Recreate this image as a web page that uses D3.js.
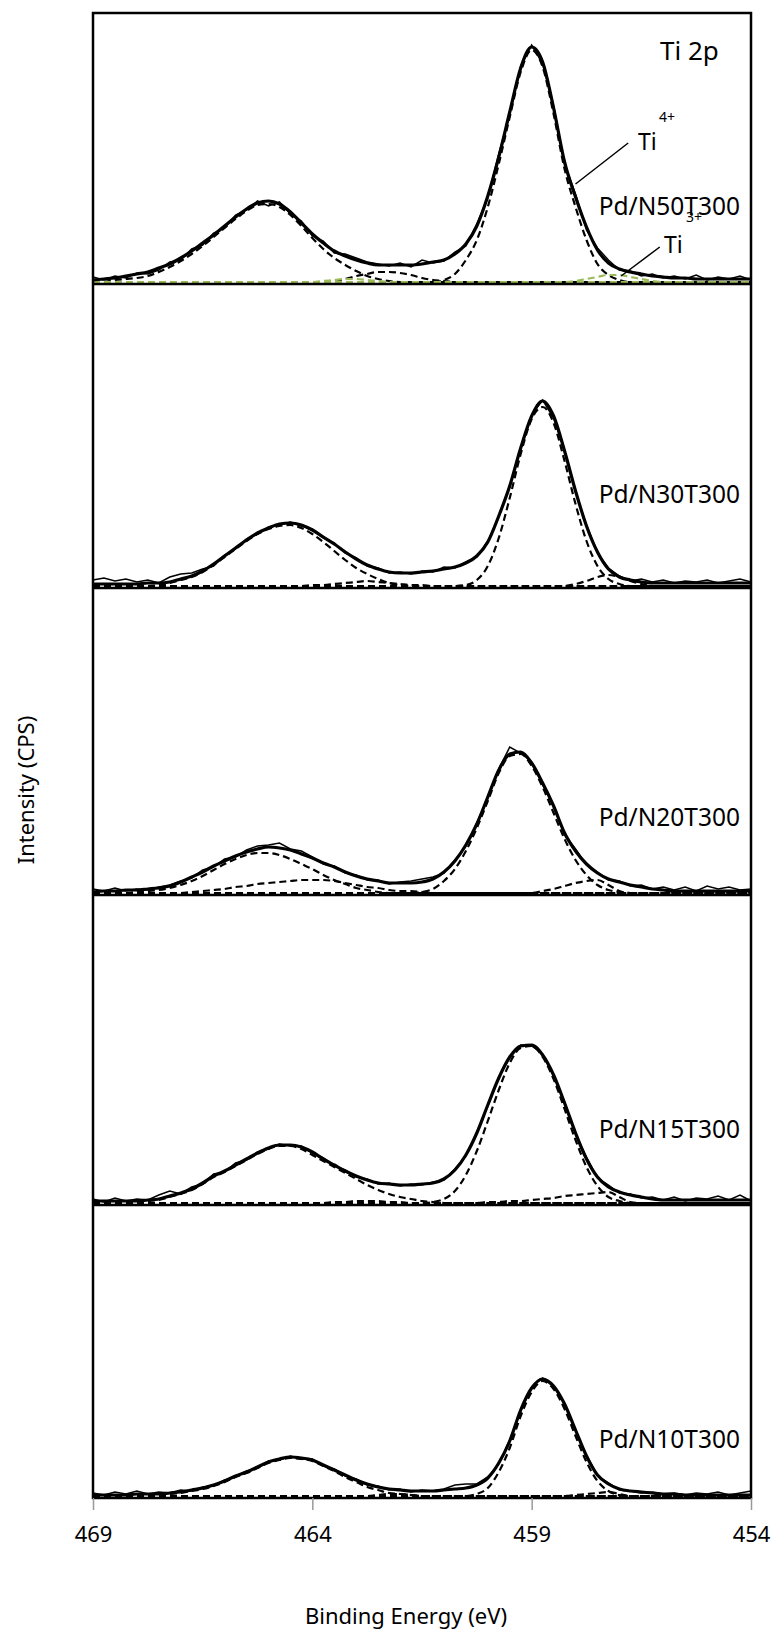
<!DOCTYPE html>
<html>
<head>
<meta charset="utf-8">
<script src="https://cdn.jsdelivr.net/npm/d3@7"></script>
<style>
  body { margin: 0; background: #fff; }
  text { font-family: "Noto Sans", sans-serif; fill: #000; }
</style>
</head>
<body>
<div id="plot"></div>
<script>
// energy grid: 469 -> 454 eV, 0.25 eV steps (61 points)
let eStart = 469, eEnd = 454, eStep = 0.25;

let sampleNames = ['Pd/N50T300', 'Pd/N30T300', 'Pd/N20T300', 'Pd/N15T300', 'Pd/N10T300'];
let xTicks = [469, 464, 459, 454];

// raw spectra (counts, arbitrary units)
let rawN50 = [5,2,6,4,9,8,12,20,22,33,37,49,54,67,72,81,76,80,68,61,46,41,29,28,24,20,18,16,19,15,22,19,21,30,36,58,84,128,168,216,237,218,176,118,88,52,34,22,12,11,6,8,4,6,3,7,2,5,3,6,2];
let rawN30 = [6,8,5,7,4,6,3,9,12,13,17,20,31,37,47,52,59,61,64,60,57,48,43,33,28,20,18,13,14,12,15,14,19,18,24,29,45,69,101,137,171,186,168,136,94,61,33,18,10,5,7,4,6,3,5,4,6,3,5,7,4];
let rawN20 = [4,2,5,2,4,3,6,8,12,15,23,26,34,36,43,47,48,50,44,42,36,29,27,20,18,13,13,9,11,12,14,16,20,33,47,70,95,124,146,140,131,108,88,58,44,28,21,13,12,7,8,4,6,3,6,2,7,4,6,3,4];
let rawN15 = [4,1,5,2,4,3,8,12,9,16,19,29,31,40,43,51,54,59,57,57,50,45,37,33,26,24,19,20,17,19,18,21,23,34,47,71,97,126,145,158,157,149,127,101,69,46,25,18,10,9,5,6,3,6,2,5,4,7,3,8,2];
let rawN10 = [3,1,4,2,5,2,4,3,6,5,9,10,16,19,25,28,35,36,40,37,37,30,27,20,17,11,10,6,7,4,6,5,7,11,12,12,19,32,56,85,109,118,109,93,65,41,20,13,6,5,3,4,2,3,1,3,2,4,1,3,5];

// fitted envelopes
let fitN50 = [2,3,4,6,8,10,14,18,24,31,39,47,56,65,73,79,81,78,70,59,48,39,31,26,22,19,17,17,17,17,18,20,22,28,38,56,86,125,170,214,235,220,174,120,85,55,32,19,13,10,8,6,5,4,4,3,3,3,3,3,3];
let fitN30 = [2,2,2,2,2,3,3,4,7,10,15,22,30,38,46,53,58,62,63,61,56,49,42,34,27,21,17,14,13,13,14,15,17,19,23,30,44,70,100,138,170,185,170,135,95,60,34,17,9,6,4,3,3,3,3,3,3,3,3,3,3];
let fitN20 = [1,2,2,3,3,4,5,7,11,16,21,27,32,37,41,44,46,45,43,39,35,30,26,21,17,14,12,10,10,10,11,14,21,32,48,69,96,123,139,141,130,110,87,60,42,29,20,14,11,8,6,4,3,2,2,2,2,2,2,2,2];
let fitN15 = [2,2,2,2,2,3,4,7,10,14,20,27,32,38,44,50,55,58,58,56,51,44,38,32,27,23,20,19,18,18,19,20,24,33,48,70,98,125,146,157,158,148,128,100,70,44,26,16,11,8,6,4,3,3,3,3,3,3,3,3,3];
let fitN10 = [1,1,1,1,2,2,2,3,4,6,8,11,15,20,24,29,34,37,39,38,36,31,26,21,16,12,9,7,6,5,5,5,6,7,8,11,18,33,55,86,108,117,110,92,66,40,21,12,7,5,4,3,2,2,1,1,1,1,1,1,1];

// fitted components (dashed): first energy + values every 0.25 eV, zero elsewhere
let compN50 = [
  { from: 461,   y: [2,8,22,42,75,118,165,210,232,215,168,113,75,42,18,7,2] },
  { from: 468.5, y: [2,3,4,6,10,15,21,28,36,45,54,63,71,77,78,75,67,56,44,33,24,17,11,6,3,1] },
  { from: 463.5, y: [1,3,6,8,10,10,9,7,4,2,1] }
];
let greenN50 = [
  { from: 458,    y: [1,3,5,7,7,5,3,1] },
  { from: 463.75, y: [1,2,3,3,2,1] }
];
let compN30 = [
  { from: 460.5, y: [1,6,20,48,88,132,167,179,163,125,82,45,20,7,2] },
  { from: 467.5, y: [1,3,6,9,14,21,29,37,45,52,57,60,61,58,52,44,35,26,18,12,7,3,1] },
  { from: 464,   y: [1,1,2,3,4,5,4,3,2,1,1] },
  { from: 458,   y: [2,5,9,11,9,5,2] }
];
let compN20 = [
  { from: 461.5,  y: [1,4,12,24,42,65,92,120,137,139,127,106,80,54,33,18,8,3,1] },
  { from: 468,    y: [1,2,3,5,8,12,17,23,29,34,38,40,40,38,34,29,24,18,13,9,5,3,1] },
  { from: 466.75, y: [1,2,3,4,6,7,9,10,11,12,13,13,13,12,10,8,6,5,3,2,2,1] },
  { from: 458.75, y: [2,4,7,10,12,13,8,2] }
];
let compN15 = [
  { from: 461.25, y: [1,4,12,28,52,82,113,140,155,157,146,124,94,63,36,17,6,2] },
  { from: 468,    y: [1,2,3,6,9,13,19,26,31,37,43,49,54,57,57,54,48,42,36,30,24,18,13,9,6,4,2,1] },
  { from: 460,    y: [1,1,2,2,3,4,5,7,8,9,10,11,6,1] },
  { from: 463.5,  y: [1,1,2,2,2,1,1] }
];
let compN10 = [
  { from: 460.25, y: [2,8,24,48,80,104,115,107,87,60,34,15,5,1] },
  { from: 467.5,  y: [1,2,3,5,7,10,14,19,23,28,33,36,38,37,35,30,25,19,14,9,6,3,2,1] },
  { from: 458,    y: [1,2,3,4,2] },
  { from: 462.5,  y: [1,2,2,1] }
];

let raws = [rawN50, rawN30, rawN20, rawN15, rawN10];
let fits = [fitN50, fitN30, fitN20, fitN15, fitN10];
let comps = [compN50, compN30, compN20, compN15, compN10];
let greens = [greenN50, [], [], [], []];

// layout
let width = 774, height = 1632;
let panelTop  = [13, 284, 588, 895, 1205];
let panelBase = [284, 588, 895, 1205, 1498];
let labelY    = [215, 503, 826, 1138, 1448];

let svg = d3.select('#plot')
  .append('svg')
  .attr('width', width)
  .attr('height', height)
  .style('background', '#fff');

let xScale = d3.scaleLinear()
  .domain([eStart, eEnd])
  .range([93, 751]);

let energies = d3.range(61).map(i => eStart - i * eStep);

function padComp(c) {
  let i0 = Math.round((eStart - c.from) / eStep);
  return energies.map((e, i) => {
    let k = i - i0;
    return [e, (k >= 0 && k < c.y.length) ? c.y[k] : 0];
  });
}

let yScales = [];

sampleNames.forEach((name, p) => {
  let top = panelTop[p], base = panelBase[p];
  let yScale = d3.scaleLinear().domain([0, base - top]).range([base - 2, top - 2]);
  yScales.push(yScale);

  let smooth = d3.line().x(d => xScale(d[0])).y(d => yScale(d[1])).curve(d3.curveMonotoneX);
  let jag = d3.line().x(d => xScale(d[0])).y(d => yScale(d[1]));

  let g = svg.append('g');

  comps[p].forEach(c => {
    g.append('path')
      .attr('d', smooth(padComp(c)))
      .attr('fill', 'none')
      .attr('stroke', '#000')
      .attr('stroke-width', 2.2)
      .attr('stroke-dasharray', '7,4');
  });
  greens[p].forEach(c => {
    g.append('path')
      .attr('d', smooth(padComp(c)))
      .attr('fill', 'none')
      .attr('stroke', '#9bbb59')
      .attr('stroke-width', 2.2)
      .attr('stroke-dasharray', '7,4');
  });

  g.append('path')
    .attr('d', jag(energies.map((e, i) => [e, raws[p][i]])))
    .attr('fill', 'none')
    .attr('stroke', '#000')
    .attr('stroke-width', 1.5);

  g.append('path')
    .attr('d', smooth(energies.map((e, i) => [e, fits[p][i]])))
    .attr('fill', 'none')
    .attr('stroke', '#000')
    .attr('stroke-width', 3.2);

  svg.append('text')
    .attr('x', 740)
    .attr('y', labelY[p])
    .attr('text-anchor', 'end')
    .attr('font-size', 24.5)
    .text(name);
});

// panel separators + frame
panelBase.slice(0, 4).forEach(b => {
  svg.append('line')
    .attr('x1', 93).attr('x2', 751)
    .attr('y1', b).attr('y2', b)
    .attr('stroke', '#000').attr('stroke-width', 2.5);
});
svg.append('rect')
  .attr('x', 93).attr('y', 13)
  .attr('width', 658).attr('height', 1485)
  .attr('fill', 'none')
  .attr('stroke', '#000').attr('stroke-width', 2.5);

// x axis
svg.append('g')
  .attr('transform', 'translate(0,1498)')
  .call(d3.axisBottom(xScale).tickValues(xTicks).tickSize(12).tickPadding(16).tickFormat(d3.format('d')))
  .call(g => g.select('.domain').remove())
  .call(g => g.selectAll('line').attr('stroke', '#999').attr('stroke-width', 1.5))
  .call(g => g.selectAll('text').attr('font-size', 22).attr('font-family', 'Noto Sans').attr('fill', '#000'));

svg.append('text')
  .attr('x', 406).attr('y', 1624)
  .attr('text-anchor', 'middle')
  .attr('font-size', 22)
  .text('Binding Energy (eV)');

svg.append('text')
  .attr('transform', 'translate(34,790) rotate(-90)')
  .attr('text-anchor', 'middle')
  .attr('font-size', 22)
  .text('Intensity (CPS)');

// annotations in the top panel
svg.append('text').attr('x', 660).attr('y', 60).attr('font-size', 26).text('Ti 2p');
svg.append('text').attr('x', 638).attr('y', 150).attr('font-size', 23).text('Ti');
svg.append('text').attr('x', 659).attr('y', 122).attr('font-size', 14).text('4+');
svg.append('text').attr('x', 686).attr('y', 222).attr('font-size', 14).text('3+');
svg.append('text').attr('x', 664).attr('y', 253).attr('font-size', 23).text('Ti');

let leaders = [
  [[456.8, 139], [458.0, 98]],
  [[456.08, 35], [456.96, 6]]
];
leaders.forEach(l => {
  svg.append('line')
    .attr('x1', xScale(l[0][0])).attr('y1', yScales[0](l[0][1]))
    .attr('x2', xScale(l[1][0])).attr('y2', yScales[0](l[1][1]))
    .attr('stroke', '#000').attr('stroke-width', 1.5);
});
</script>
</body>
</html>
